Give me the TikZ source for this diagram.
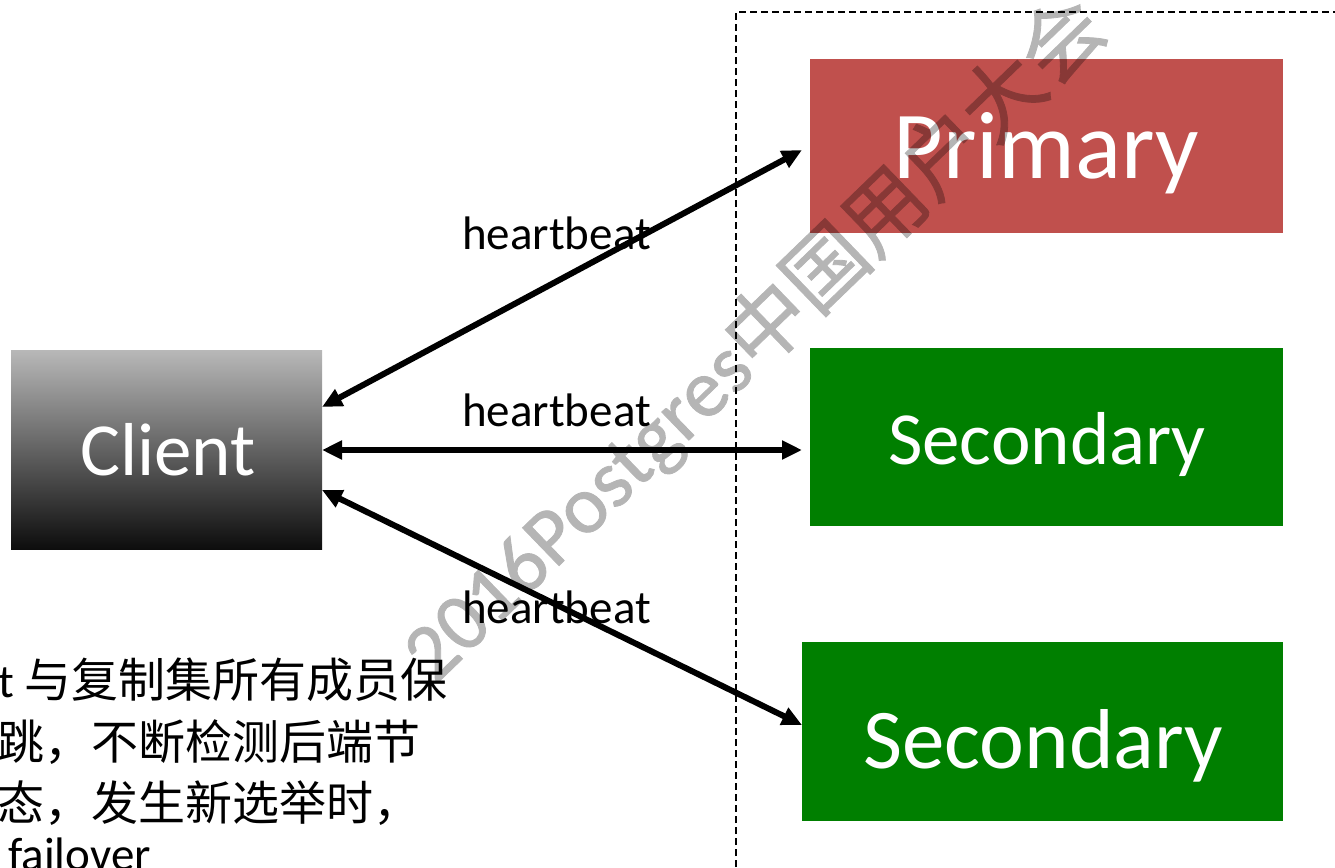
\documentclass[tikz,border=0pt]{standalone}
\usepackage{fontspec}
\setmainfont{Carlito}
\newfontfamily\cjk{Noto Sans CJK SC}
\newfontfamily\wmlat[FakeBold=1]{Carlito}
\newfontfamily\wmcjk[FakeBold=1]{Noto Sans CJK SC}
\usetikzlibrary{arrows.meta}
\definecolor{primred}{HTML}{C0504D}
\definecolor{secgreen}{HTML}{007F00}
\definecolor{cltop}{HTML}{B8B8B8}
\definecolor{clbot}{HTML}{0D0D0D}
\begin{document}
\begin{tikzpicture}[x=1pt,y=-1pt,
  box/.style={anchor=north west, inner sep=0pt, outer sep=0pt, draw=none},
  boxtext/.style={anchor=base, inner sep=0pt, text=white},
  hb/.style={line width=6pt, {Triangle[length=20pt,width=18pt]}-{Triangle[length=20pt,width=18pt]}},
  hblabel/.style={anchor=base west, inner sep=0pt, font=\fontsize{47}{47}\selectfont},
  note/.style={anchor=base west, inner sep=0pt, font=\fontsize{47}{47}\selectfont},
  frame/.style={line width=2pt, dash pattern=on 7pt off 4pt}]
\useasboundingbox (0,0) rectangle (1335,867);
\clip (0,0) rectangle (1335,867);
% dashed frame
\draw[frame] (736,900) -- (736,12) -- (1400,12);
% boxes
\node[box, top color=cltop, bottom color=clbot, minimum width=311pt, minimum height=199pt] (client) at (11,350) {};
\node[box, fill=primred, minimum width=473pt, minimum height=174pt] (primary) at (810,59) {};
\node[box, fill=secgreen, minimum width=473pt, minimum height=178pt] (sec1) at (810,348) {};
\node[box, fill=secgreen, minimum width=481pt, minimum height=179pt] (sec2) at (802,642) {};
% box texts
\node[boxtext, font=\fontsize{75}{75}\selectfont] (clienttext) at (168,475) {Client};
\node[boxtext, font=\fontsize{96}{96}\selectfont] (primarytext) at (1046,178) {Primary};
\node[boxtext, font=\fontsize{75}{75}\selectfont] (sec1text) at (1047,464) {Secondary};
\node[boxtext, font=\fontsize{85}{85}\selectfont] (sec2text) at (1043,768) {Secondary};
% connector endpoints
\coordinate (c1) at (322,407);
\coordinate (c2) at (322,450);
\coordinate (c3) at (322,490);
\coordinate (p1) at (802,150);
\coordinate (p2) at (802,450);
\coordinate (p3) at (802,725);
\draw[hb] (c1) -- (p1);
\draw[hb] (c2) -- (p2);
\draw[hb] (c3) -- (p3);
% labels
\node[hblabel] (l1) at (462,249) {heartbeat};
\node[hblabel] (l2) at (462,426) {heartbeat};
\node[hblabel] (l3) at (462,623) {heartbeat};
% note text
\node[note] (n1) at (-2,697) {t {\cjk 与复制集所有成员保}};
\node[note] (n2) at (-3,759) {{\cjk 跳，不断检测后端节}};
\node[note] (n3) at (-3,820) {{\cjk 态，发生新选举时，}};
\node[note] (n4) at (8,870) {failover};
% watermark
\begin{scope}[transparency group, opacity=0.29]
\node[inner sep=0pt, rotate=44, text=black, font=\fontsize{82}{82}\selectfont] (wm) at (754,339) {{\wmlat 2016Postgres}{\wmcjk 中国用户大会}};
\end{scope}
\end{tikzpicture}
\end{document}
